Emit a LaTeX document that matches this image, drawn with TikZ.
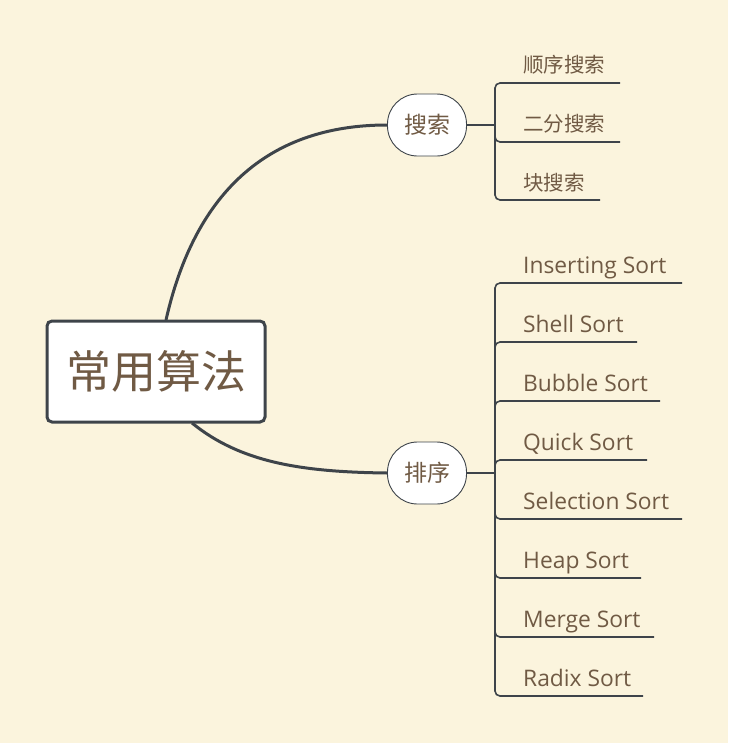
\documentclass[tikz,border=0pt]{standalone}
\usepackage{fontspec}
\setmainfont{Open Sans}
\newfontfamily\cjk{Noto Sans CJK SC}
\definecolor{bgcol}{RGB}{251,244,221}
\definecolor{txtcol}{RGB}{112,90,68}
\definecolor{linecol}{RGB}{62,68,74}
\begin{document}
\begin{tikzpicture}[x=1pt,y=-1pt,
  rootbox/.style={draw=linecol,line width=3pt,fill=white,rounded corners=5pt,
    minimum width=218pt,minimum height=101pt,inner sep=0pt,
    font=\cjk\fontsize{45}{45}\selectfont,text=txtcol},
  midbox/.style={draw=linecol,line width=0.9pt,fill=white,rounded corners=30pt,
    minimum width=79pt,minimum height=62pt,inner sep=0pt,
    font=\cjk\fontsize{23}{23}\selectfont,text=txtcol},
  leafcn/.style={anchor=west,inner sep=0pt,text=txtcol,font=\cjk\fontsize{20.5}{20.5}\selectfont},
  leafen/.style={anchor=base west,inner sep=0pt,text=txtcol,font=\fontsize{22.8}{22.8}\selectfont},
  mainline/.style={draw=linecol,line width=3pt},
  subline/.style={draw=linecol,line width=2pt},
  bracket/.style={draw=linecol,line width=1.6pt,rounded corners=5pt}]
\useasboundingbox (0,0) rectangle (732,747);
\fill[white] (0,0) rectangle (732,747);
\fill[bgcol] (0,0) rectangle (728,743);

\node[rootbox] (root) at (156,371.5) {常用算法};
\node[midbox] (search) at (427,125) {搜索};
\node[midbox] (sort) at (427,473) {排序};

\coordinate (rt) at (166,320);
\coordinate (rb) at (192,423);
\draw[mainline] (rt) .. controls (200,170) and (290,125) .. (search.west);
\draw[mainline] (rb) .. controls (240,462) and (300,472) .. (sort.west);

% search branch
\coordinate (js) at (495,125);
\draw[subline] (search.east) -- (js);
\node[leafcn] (s1) at (523,65) {顺序搜索};
\node[leafcn] (s2) at (523,124) {二分搜索};
\node[leafcn] (s3) at (523,183) {块搜索};
\coordinate (e1) at (620,83);
\coordinate (e2) at (620,142);
\coordinate (e3) at (600,200);
\foreach \e in {e1,e2,e3} \draw[bracket] (js) |- (\e);

% sort branch
\coordinate (jo) at (495,473);
\draw[subline] (sort.east) -- (jo);
\node[leafen] (o1) at (523,273.5) {Inserting Sort};
\node[leafen] (o2) at (523,332.5) {Shell Sort};
\node[leafen] (o3) at (523,391.5) {Bubble Sort};
\node[leafen] (o4) at (523,450.5) {Quick Sort};
\node[leafen] (o5) at (523,509.5) {Selection Sort};
\node[leafen] (o6) at (523,568.5) {Heap Sort};
\node[leafen] (o7) at (523,627.5) {Merge Sort};
\node[leafen] (o8) at (523,686.5) {Radix Sort};
\coordinate (f1) at (682,283);
\coordinate (f2) at (637,342);
\coordinate (f3) at (660,401);
\coordinate (f4) at (647,460);
\coordinate (f5) at (682,519);
\coordinate (f6) at (641,578);
\coordinate (f7) at (654,637);
\coordinate (f8) at (643,696);
\foreach \e in {f1,f2,f3,f4,f5,f6,f7,f8} \draw[bracket] (jo) |- (\e);
\end{tikzpicture}
\end{document}
